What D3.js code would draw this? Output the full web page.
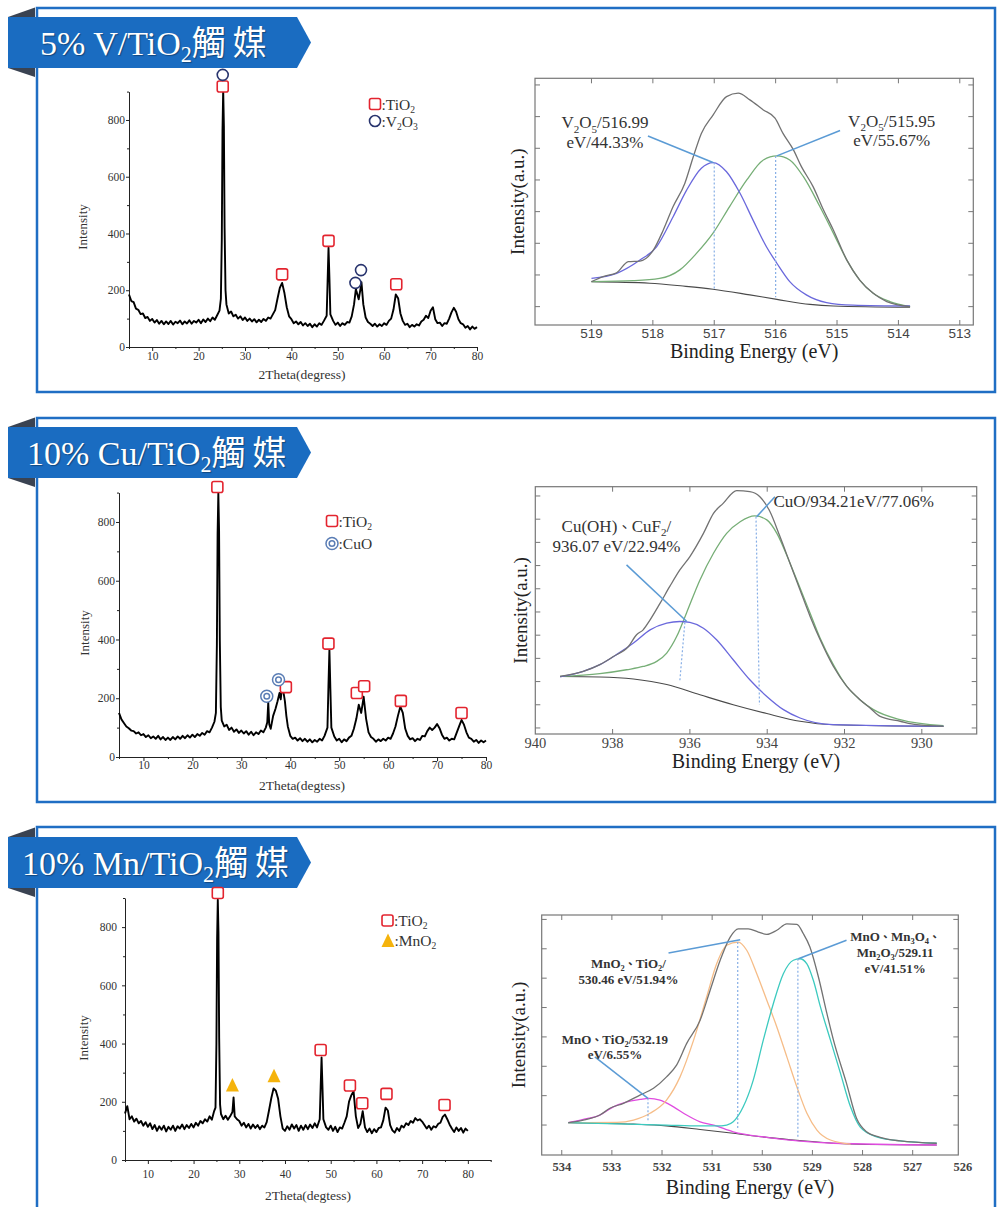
<!DOCTYPE html>
<html><head><meta charset="utf-8">
<script src="https://cdn.jsdelivr.net/npm/d3@7"></script>
<style>body{margin:0;background:#fff}svg{display:block}</style>
</head><body>
<svg id="c" width="997" height="1207"></svg>
<script>
// ---------------- DATA ----------------
const titles = ["5% V/TiO_2", "10% Cu/TiO_2", "10% Mn/TiO_2"];
const titleSuffix = "觸媒";

const xrdMajorX = [10,20,30,40,50,60,70,80];
const xrdMinorX = [5,15,25,35,45,55,65,75];
const mnMinorX = [5,15,25,35,45,55,65,75,85];
const xrdMajorY = [0,200,400,600,800];
const xrdMinorY = [100,300,500,700,900];

// XRD intensities every 0.5 deg from 5 to 80 (null = see peak points)
const vGrid = [
185,162,158,135,131,116,118,102,106,92,
99,86,95,82,92,80,90,81,92,79,
89,84,93,80,90,83,94,82,92,86,
96,84,97,88,100,91,104,96,112,128,
null,null,150,118,125,108,114,100,108,95,
104,92,100,90,98,87,96,88,99,92,
104,100,115,130,170,208,226,190,140,108,
98,84,90,80,88,76,84,74,82,70,
80,72,84,78,92,null,null,null,92,78,
86,74,84,78,88,86,108,150,198,168,
215,150,104,88,82,74,82,72,80,74,
84,78,92,100,132,185,172,118,92,78,
82,70,78,72,80,76,90,96,110,102,
128,140,98,84,86,74,84,82,100,122,
138,124,98,84,80,68,74,62,72,64,
70];
const vPeaks = [[24.8,170],[25.0,380],[25.15,760],[25.3,905],[25.45,780],[25.6,420],[25.8,200],
  [47.6,110],[47.8,230],[48.0,350],[48.2,240],[48.4,115],[53.9,205],[55.1,228]];

const cuGrid = [
150,128,116,104,98,90,88,80,84,74,
78,68,74,64,70,62,72,60,68,58,
66,58,68,60,70,62,72,64,74,66,
76,68,78,72,82,76,88,84,100,120,
null,null,124,104,110,92,100,86,94,82,
90,80,88,76,86,74,84,78,90,84,
100,null,96,140,null,null,null,null,null,104,
72,62,66,56,64,54,62,52,60,50,
58,52,62,56,72,null,null,null,70,56,
62,50,60,54,66,72,96,130,178,150,
205,130,84,68,62,52,60,54,62,56,
66,62,80,104,140,172,150,96,72,60,
64,54,62,58,72,70,88,100,92,100,
112,98,76,62,66,56,62,60,82,104,
126,110,84,66,62,52,58,48,56,50,
56];
const cuPeaks = [[24.8,150],[25.0,380],[25.15,760],[25.3,898],[25.45,770],[25.6,400],[25.8,170],
  [35.3,118],[35.5,185],[35.7,112],[37.0,165],[37.4,190],[37.8,218],[38.05,196],[38.3,236],
  [38.6,222],[38.9,190],[39.2,140],[47.6,100],[47.8,240],[48.0,365],[48.2,230],[48.4,100]];

const mnGrid = [
160,185,140,150,132,142,126,134,118,130,
114,126,106,120,100,116,104,118,98,114,
104,118,100,116,108,122,106,120,110,124,
112,128,118,134,126,140,132,150,138,168,
null,null,158,140,152,138,150,165,150,140,
134,118,128,112,124,108,122,110,120,106,
118,112,130,170,212,246,238,210,150,108,
100,116,104,122,108,120,100,118,104,120,
106,122,110,126,112,null,null,null,112,104,
118,100,114,96,112,108,128,150,200,222,
236,150,110,124,168,112,96,108,92,106,
96,110,112,136,180,170,120,102,94,110,
100,118,112,126,120,134,128,144,136,140,
132,120,108,118,104,116,112,124,128,148,
156,140,122,108,96,112,100,110,94,108,
100];
const mnPeaks = [[24.8,180],[25.0,400],[25.15,760],[25.3,894],[25.45,780],[25.6,420],[25.8,190],
  [28.75,215],[47.6,140],[47.8,250],[48.0,352],[48.2,250],[48.4,140]];

// XRD phase markers [2theta, intensity]
const vTiO2Marks = [[25.2,918],[38.0,256],[48.0,374],[62.6,221]];
const vV2O3Marks = [[25.2,959],[53.8,226],[55.0,271]];
const cuTiO2Marks = [[25.1,919],[39.1,238],[47.8,386],[53.6,218],[55.1,241],[62.6,191],[75.0,150]];
const cuCuOMarks = [[35.2,207],[37.6,263]];
const mnTiO2Marks = [[25.3,917],[47.8,378],[54.2,256],[56.9,195],[62.2,227],[74.9,189]];
const mnMnO2Marks = [[28.5,258],[37.6,289]];

// XPS  [binding energy eV, intensity a.u.]
const vTicksX = [519,518,517,516,515,514,513];
const vTicksY = [1,2,3,4,5,6,7,8];
const vEnv = [[519.00,1.79],[518.81,1.95],[518.59,2.07],[518.40,2.42],[518.21,2.44],[517.99,2.79],[517.83,3.42],[517.67,4.16],[517.48,4.89],[517.34,5.74],[517.21,6.47],[517.02,7.05],[516.80,7.63],[516.61,7.74],[516.42,7.53],[516.20,7.21],[516.01,6.95],[515.88,6.47],[515.71,5.95],[515.58,5.42],[515.39,4.79],[515.22,4.05],[515.06,3.42],[514.84,2.47],[514.63,1.84],[514.41,1.42],[514.19,1.16],[513.81,1.00]];
const vBg = [[519.00,1.79],[518.05,1.74],[517.51,1.65],[517.02,1.55],[516.42,1.37],[515.98,1.23],[515.44,1.07],[515.06,1.02],[513.81,0.98]];
const vComp1 = [[519.00,1.89],[518.59,2.05],[518.21,2.47],[517.94,2.89],[517.67,3.84],[517.45,4.68],[517.21,5.37],[517.02,5.55],[516.80,5.26],[516.58,4.58],[516.37,3.74],[516.15,2.89],[515.98,2.37],[515.77,1.79],[515.50,1.37],[515.17,1.13],[514.74,1.05],[513.81,1.02]];
const vComp2 = [[519.00,1.79],[518.32,1.82],[517.89,1.89],[517.56,2.16],[517.29,2.68],[517.02,3.32],[516.75,4.16],[516.47,5.00],[516.20,5.63],[515.98,5.76],[515.77,5.63],[515.55,5.11],[515.28,4.16],[515.06,3.32],[514.84,2.47],[514.63,1.84],[514.41,1.42],[514.14,1.16],[513.81,1.00]];
const vDrops = [[[517.00,5.55],[517.00,1.55]],[[516.00,5.76],[516.00,1.30]]];
const vLeaders = [[[518.08,6.39],[517.02,5.55]],[[514.95,6.56],[515.98,5.76]]];
const vNotes = [[518.78,6.63,"V_2O_5/516.99"],[518.78,6.00,"eV/44.33%"],[514.11,6.68,"V_2O_5/515.95"],[514.11,6.07,"eV/55.67%"]];

const cuTicksX = [940,938,936,934,932,930];
const cuTicksY = [1,2,3,4,5,6,7,8,9,10,11];
const cuEnv = [[939.36,3.22],[938.76,3.44],[938.33,3.73],[937.98,4.08],[937.59,4.51],[937.38,5.02],[937.21,5.23],[937.03,5.66],[936.77,6.38],[936.52,7.10],[936.26,7.81],[936.00,8.39],[935.65,9.39],[935.39,10.25],[935.14,10.68],[934.79,11.23],[934.45,11.19],[934.19,10.97],[933.93,10.33],[933.67,9.25],[933.41,8.10],[933.15,6.95],[932.89,5.81],[932.63,4.80],[932.29,3.66],[931.94,2.79],[931.60,2.22],[931.34,1.86],[931.08,1.50],[930.56,1.29],[930.13,1.14],[929.44,1.07]];
const cuBg = [[939.36,3.22],[938.33,3.20],[937.46,3.11],[936.60,2.87],[935.74,2.43],[934.88,2.00],[934.01,1.62],[933.15,1.29],[932.29,1.14],[929.44,1.07]];
const cuComp1 = [[939.36,3.20],[938.76,3.44],[938.33,3.73],[937.90,4.16],[937.46,4.66],[937.03,5.23],[936.60,5.52],[936.26,5.59],[936.00,5.55],[935.65,5.30],[935.31,4.80],[934.88,3.94],[934.45,3.08],[934.01,2.36],[933.58,1.79],[933.15,1.43],[932.29,1.14],[929.44,1.07]];
const cuComp2 = [[939.36,3.22],[938.33,3.34],[937.64,3.51],[937.21,3.65],[936.86,3.87],[936.60,4.23],[936.34,4.95],[936.09,5.95],[935.74,7.38],[935.39,8.53],[935.05,9.39],[934.70,9.89],[934.32,10.14],[934.01,9.97],[933.75,9.39],[933.41,8.10],[933.15,7.03],[932.89,5.95],[932.63,4.87],[932.29,3.73],[931.94,2.79],[931.60,2.22],[931.25,1.79],[930.56,1.36],[929.44,1.10]];
const cuDrops = [[[936.13,5.55],[936.26,3.05]],[[934.29,10.11],[934.20,2.00]]];
const cuLeaders = [[[937.64,8.03],[936.08,5.59]],[[933.80,10.97],[934.27,10.11]]];
const cuNotes = [[937.90,9.46,"Cu(OH)、CuF_2/"],[937.90,8.60,"936.07 eV/22.94%"]];
const cuNoteStart = [[933.84,10.54,"CuO/934.21eV/77.06%"]];

const mnTicksX = [534,533,532,531,530,529,528,527,526];
const mnTicksY = [1,2,3,4,5,6,7,8];
const mnEnv = [[533.87,1.08],[533.50,1.19],[533.24,1.34],[533.04,1.57],[532.77,1.74],[532.44,2.02],[532.17,2.25],[531.91,2.64],[531.71,3.04],[531.51,3.77],[531.24,4.57],[531.04,5.59],[530.84,6.61],[530.64,7.40],[530.48,7.68],[530.28,7.68],[530.08,7.57],[529.91,7.49],[529.71,7.63],[529.51,7.85],[529.31,7.83],[529.18,7.51],[529.05,7.06],[528.88,6.04],[528.71,4.79],[528.58,3.89],[528.32,2.42],[528.12,1.23],[527.92,0.77],[527.65,0.58],[527.25,0.46],[526.52,0.38]];
const mnBg = [[533.87,1.08],[532.57,1.03],[531.91,0.97],[531.24,0.85],[530.58,0.72],[529.91,0.58],[529.25,0.47],[528.58,0.38],[527.92,0.34],[526.52,0.32]];
const mnComp1 = [[533.87,1.08],[533.57,1.19],[533.24,1.34],[532.97,1.62],[532.70,1.79],[532.44,1.87],[532.27,1.91],[532.04,1.85],[531.77,1.62],[531.51,1.34],[531.24,1.11],[530.97,1.00],[530.58,0.77],[529.91,0.58],[528.58,0.38],[526.52,0.32]];
const mnComp2 = [[533.87,1.08],[532.90,1.09],[532.57,1.17],[532.24,1.40],[531.91,1.85],[531.64,2.64],[531.37,3.89],[531.11,5.36],[530.91,6.49],[530.71,7.12],[530.48,7.23],[530.31,6.95],[530.11,6.15],[529.91,5.25],[529.71,4.34],[529.51,3.32],[529.31,2.30],[529.11,1.40],[528.91,0.83],[528.64,0.49],[528.24,0.35]];
const mnComp3 = [[533.87,1.08],[531.91,1.00],[531.24,0.97],[530.91,0.97],[530.71,1.00],[530.58,1.11],[530.38,1.62],[530.18,2.53],[529.98,3.89],[529.78,5.13],[529.58,6.15],[529.38,6.61],[529.25,6.66],[529.11,6.49],[528.98,5.92],[528.84,5.02],[528.64,3.89],[528.44,2.76],[528.24,1.62],[528.05,0.94],[527.72,0.60],[527.25,0.46],[526.52,0.38]];
const mnDrops = [[[532.28,1.91],[532.28,1.15]],[[530.49,7.23],[530.49,0.83]],[[529.29,6.66],[529.29,0.55]]];
const mnLeaders = [[[531.87,6.86],[530.44,7.31]],[[528.32,7.29],[529.28,6.66]],[[533.34,3.32],[532.28,1.91]]];
const mnNotes = [[532.67,6.36,"MnO_2、TiO_2/"],[532.67,5.81,"530.46 eV/51.94%"],
  [527.35,7.26,"MnO、Mn_3O_4、"],[527.35,6.72,"Mn_2O_3/529.11"],[527.35,6.18,"eV/41.51%"],
  [532.94,3.77,"MnO、TiO_2/532.19"],[532.94,3.24,"eV/6.55%"]];

// ---------------- DRAWING ----------------
const SERIF = "'Liberation Serif','Times New Roman',serif";
const SANS = "'Liberation Sans',Arial,sans-serif";
const CJK = "'Noto Sans CJK TC','Noto Sans CJK SC',sans-serif";
const svg = d3.select('#c');
svg.append('rect').attr('width',997).attr('height',1207).attr('fill','#fff');

function rich(t, s, fs, subShift, subScale) {
  let cur = 0;
  s.split(/(_\d+|[\u3000-\u303f\u4e00-\u9fff]+)/).filter(p => p).forEach(p => {
    const sub = p[0] === '_';
    const cjk = /[\u3000-\u303f\u4e00-\u9fff]/.test(p);
    const target = sub ? fs * (subShift || 0.28) : 0;
    const ts = t.append('tspan').text(sub ? p.slice(1) : p).attr('dy', target - cur);
    cur = target;
    if (sub) ts.attr('font-size', fs * (subScale || 0.68));
    if (cjk) ts.attr('font-family', CJK).attr('font-size', fs * 0.85);
  });
  return cur;
}

// frames
[[8,392],[418,802],[827,1215]].forEach(([t,b]) => {
  svg.append('rect').attr('x',37).attr('y',t).attr('width',958).attr('height',b-t)
    .attr('fill','none').attr('stroke','#1f6ec4').attr('stroke-width',2.5);
});

// banners
const bannerTop = [17,427,837];
const bannerTextX = [40,27,22];
titles.forEach((tt,i) => {
  const y0 = bannerTop[i];
  const g = svg.append('g');
  g.append('polygon').attr('points',[[35,y0-9.5],[35,y0],[8,y0]].join(' ')).attr('fill','#3a4352');
  g.append('polygon').attr('points',[[35,y0+60],[35,y0+51],[8,y0+51]].join(' ')).attr('fill','#3a4352');
  g.append('polygon').attr('points',[[8,y0],[297,y0],[311,y0+25.5],[297,y0+51],[8,y0+51]].join(' '))
    .attr('fill','#1a6cc1');
  const t = g.append('text').attr('x',bannerTextX[i]).attr('y',y0+38).attr('fill','#fff')
    .attr('font-family',SERIF).attr('font-size',34)
    .style('text-shadow','1px 1px 1px rgba(0,0,0,0.35)');
  const cur = rich(t, tt, 34, 0.22, 0.65);
  t.append('tspan').attr('dy', -cur).attr('font-family',CJK).attr('font-size',34)
    .attr('letter-spacing',7).text(titleSuffix);
});

function axStyle(sel, fs, fam, fill) {
  sel.select('.domain').attr('stroke','#222').attr('stroke-width',1);
  sel.selectAll('.tick line').attr('stroke','#222');
  sel.selectAll('text').attr('font-family',fam).attr('font-size',fs).attr('fill',fill);
}

function drawXRD(c) {
  const g = svg.append('g');
  const x = d3.scaleLinear().domain(c.xDomain).range(c.xRange);
  const y = d3.scaleLinear().domain([0,900]).range(c.yRange);
  const y0 = y(0), x0 = x(c.xDomain[0]);
  const gm = g.append('g').attr('transform',`translate(0,${y0})`)
    .call(d3.axisBottom(x).tickValues(c.minorX).tickSize(2).tickSizeOuter(0).tickFormat(''));
  gm.select('.domain').remove(); axStyle(gm, 11, SERIF, '#333');
  const gx = g.append('g').attr('transform',`translate(0,${y0})`)
    .call(d3.axisBottom(x).tickValues(xrdMajorX).tickSize(4).tickSizeOuter(0).tickPadding(c.xPad));
  axStyle(gx, 11.5, SERIF, '#333');
  const gym = g.append('g').attr('transform',`translate(${x0},0)`)
    .call(d3.axisLeft(y).tickValues(xrdMinorY).tickSize(2).tickSizeOuter(0).tickFormat(''));
  gym.select('.domain').remove(); axStyle(gym, 11, SERIF, '#333');
  const gy = g.append('g').attr('transform',`translate(${x0},0)`)
    .call(d3.axisLeft(y).tickValues(xrdMajorY).tickSize(3).tickSizeOuter(0).tickPadding(c.yPad));
  axStyle(gy, 11.5, SERIF, '#333');

  const pts = c.grid.map((v,i) => [5 + 0.5*i, v]).filter(d => d[1] != null)
    .concat(c.peaks).sort((a,b) => a[0]-b[0]);
  g.append('path').datum(pts).attr('fill','none').attr('stroke','#000').attr('stroke-width',1.9)
    .attr('stroke-linejoin','round')
    .attr('d', d3.line().x(d => x(d[0])).y(d => y(d[1])));

  const sq = (sel, cx, cy) => sel.append('rect').attr('x',cx-5.5).attr('y',cy-5.5).attr('width',11).attr('height',11)
    .attr('rx',2).attr('fill','#fff').attr('stroke','#e3242f').attr('stroke-width',1.6);
  const ci = (sel, cx, cy) => sel.append('circle').attr('cx',cx).attr('cy',cy).attr('r',5.5)
    .attr('fill','#fff').attr('stroke','#28346e').attr('stroke-width',1.6);
  const dc = (sel, cx, cy) => { sel.append('circle').attr('cx',cx).attr('cy',cy).attr('r',6)
      .attr('fill','#fff').attr('stroke','#5a7db5').attr('stroke-width',1.5);
    sel.append('circle').attr('cx',cx).attr('cy',cy).attr('r',2.8)
      .attr('fill','none').attr('stroke','#5a7db5').attr('stroke-width',1.5); };
  const tri = (sel, cx, cy) => sel.append('path').attr('transform',`translate(${cx},${cy})`)
    .attr('d','M0,-7L6.5,6.5L-6.5,6.5Z').attr('fill','#f5b30c');
  const shapes = {sq, ci, dc, tri};
  c.marks.forEach(([arr, kind]) => arr.forEach(d => shapes[kind](g, x(d[0]), y(d[1]))));

  // legend
  c.legend.forEach(([kind, lx, ly, label]) => {
    shapes[kind](g, lx, ly);
    const t = g.append('text').attr('x', lx+6.5).attr('y', ly+5.5).attr('font-family',SERIF)
      .attr('font-size',15.5).attr('fill','#333');
    rich(t, label, 15.5, 0.22, 0.62);
  });

  g.append('text').attr('transform',`translate(${c.yTitle[0]},${c.yTitle[1]}) rotate(-90)`)
    .attr('text-anchor','middle').attr('font-family',SERIF).attr('font-size',13).attr('fill','#333').text('Intensity');
  g.append('text').attr('x',c.xTitle[0]).attr('y',c.xTitle[1]).attr('text-anchor','middle')
    .attr('font-family',SERIF).attr('font-size',13.5).attr('fill','#333').text(c.xLabel);
}

drawXRD({xDomain:[5,80], xRange:[129,477], yRange:[347,91.6], minorX:xrdMinorX, xPad:1, yPad:1,
  grid:vGrid, peaks:vPeaks, marks:[[vTiO2Marks,'sq'],[vV2O3Marks,'ci']],
  legend:[['sq',375,104,':TiO_2'],['ci',375,121,':V_2O_3']],
  yTitle:[87,227], xTitle:[302,379], xLabel:'2Theta(degress)'});
drawXRD({xDomain:[5,80], xRange:[119,486], yRange:[757,492.6], minorX:xrdMinorX, xPad:0, yPad:1,
  grid:cuGrid, peaks:cuPeaks, marks:[[cuTiO2Marks,'sq'],[cuCuOMarks,'dc']],
  legend:[['sq',332,521,':TiO_2'],['dc',332,543.5,':CuO']],
  yTitle:[89,633], xTitle:[302,790], xLabel:'2Theta(degtess)'});
drawXRD({xDomain:[5,85], xRange:[125,490.7], yRange:[1160,898], minorX:mnMinorX, xPad:6, yPad:5,
  grid:mnGrid, peaks:mnPeaks, marks:[[mnTiO2Marks,'sq'],[mnMnO2Marks,'tri']],
  legend:[['sq',387.5,920.5,':TiO_2'],['tri',388,940.5,':MnO_2']],
  yTitle:[87.5,1038], xTitle:[308,1200], xLabel:'2Theta(degtess)'});

function drawXPS(c) {
  const g = svg.append('g');
  const [L,R] = c.xRange, [B,T] = c.yRange;
  const x = d3.scaleLinear().domain(c.xDomain).range(c.xRange);
  const y = d3.scaleLinear().domain(c.yDomain).range(c.yRange);
  g.append('rect').attr('x',L).attr('y',T).attr('width',R-L).attr('height',B-T)
    .attr('fill','none').attr('stroke','#777').attr('stroke-width',1.2);
  c.ticksX.forEach(t => {
    const px = x(t);
    if (px > L+1 && px < R-1) {
      g.append('line').attr('x1',px).attr('x2',px).attr('y1',B).attr('y2',B-5).attr('stroke','#777');
      g.append('line').attr('x1',px).attr('x2',px).attr('y1',T).attr('y2',T+5).attr('stroke','#777');
    }
    g.append('text').attr('x',px).attr('y',c.labelY).attr('text-anchor','middle')
      .attr('font-family',c.tickFont).attr('font-size',c.tickSize).attr('font-weight',c.tickWeight||'normal')
      .attr('fill','#444').text(t);
  });
  c.ticksY.forEach(t => {
    const py = y(t);
    g.append('line').attr('x1',L).attr('x2',L+5).attr('y1',py).attr('y2',py).attr('stroke','#777');
    g.append('line').attr('x1',R).attr('x2',R-5).attr('y1',py).attr('y2',py).attr('stroke','#777');
  });
  const line = d3.line().x(d => x(d[0])).y(d => y(d[1])).curve(d3.curveMonotoneX);
  c.curves.forEach(([data, col, w]) => g.append('path').datum(data).attr('fill','none')
    .attr('stroke',col).attr('stroke-width',w).attr('d',line));
  const seg = d3.line().x(d => x(d[0])).y(d => y(d[1]));
  c.drops.forEach(d => g.append('path').datum(d).attr('stroke','#86aee6').attr('stroke-width',1.2)
    .attr('stroke-dasharray','2,2').attr('fill','none').attr('d',seg));
  c.leaders.forEach(d => g.append('path').datum(d).attr('stroke','#5b9bd5').attr('stroke-width',1.5)
    .attr('fill','none').attr('d',seg));
  c.notes.forEach(([ex, ev, s]) => {
    const t = g.append('text').attr('x',x(ex)).attr('y',y(ev)).attr('text-anchor','middle')
      .attr('font-family',SERIF).attr('font-size',c.noteSize).attr('font-weight',c.noteWeight||'normal').attr('fill','#333');
    rich(t, s, c.noteSize, 0.25, 0.65);
  });
  (c.notesStart||[]).forEach(([ex, ev, s]) => {
    const t = g.append('text').attr('x',x(ex)).attr('y',y(ev)).attr('text-anchor','start')
      .attr('font-family',SERIF).attr('font-size',c.noteSize).attr('fill','#333');
    rich(t, s, c.noteSize, 0.25, 0.65);
  });
  g.append('text').attr('x',(L+R)/2).attr('y',c.xTitleY).attr('text-anchor','middle')
    .attr('font-family',SERIF).attr('font-size',20).attr('fill','#222').text('Binding Energy (eV)');
  g.append('text').attr('transform',`translate(${c.yTitleX},${(T+B)/2}) rotate(-90)`).attr('text-anchor','middle')
    .attr('font-family',SERIF).attr('font-size',19).attr('fill','#222').text('Intensity(a.u.)');
}

const ENV = '#727272', BG = '#4a4a4a';
drawXPS({xDomain:[519.92,512.78], xRange:[535,973.3], yDomain:[0.42,8.21], yRange:[325,78.3],
  ticksX:vTicksX, ticksY:vTicksY, labelY:337.5, tickFont:SANS, tickSize:13.5,
  curves:[[vBg,BG,1.1],[vComp2,'#76ae76',1.3],[vComp1,'#6a68dc',1.3],[vEnv,ENV,1.3]],
  drops:vDrops, leaders:vLeaders, notes:vNotes, noteSize:17, xTitleY:358, yTitleX:524});
drawXPS({xDomain:[940,928.58], xRange:[535.3,976.7], yDomain:[0.74,11.4], yRange:[734,486.7],
  ticksX:cuTicksX, ticksY:cuTicksY, labelY:748, tickFont:SERIF, tickSize:14.5,
  curves:[[cuBg,BG,1.1],[cuComp2,'#76ae76',1.3],[cuComp1,'#6a68dc',1.3],[cuEnv,ENV,1.3]],
  drops:cuDrops, leaders:cuLeaders, notes:cuNotes, notesStart:cuNoteStart, noteSize:17, xTitleY:768, yTitleX:527});
drawXPS({xDomain:[534.4,526.09], xRange:[541.7,958.3], yDomain:[-0.02,8.15], yRange:[1155,915],
  ticksX:mnTicksX, ticksY:mnTicksY, labelY:1171, tickFont:SERIF, tickSize:12.5, tickWeight:'bold',
  curves:[[mnBg,BG,1.1],[mnComp1,'#e04ce0',1.3],[mnComp2,'#f6bd88',1.3],[mnComp3,'#3ccabf',1.3],[mnEnv,ENV,1.3]],
  drops:mnDrops, leaders:mnLeaders, notes:mnNotes, noteSize:13, noteWeight:'bold', xTitleY:1194, yTitleX:525});
</script>
</body></html>
